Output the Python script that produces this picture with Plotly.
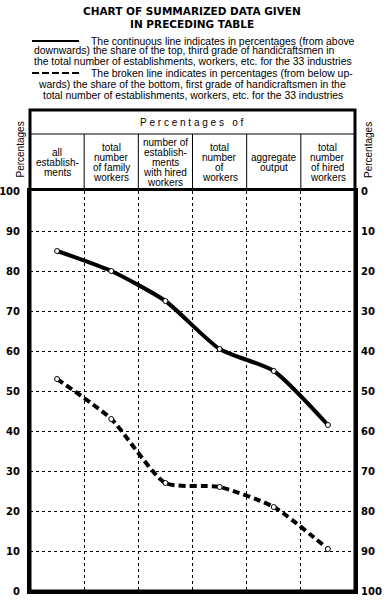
import plotly.graph_objects as go

# ---------------- data ----------------
categories = ["all establishments", "total number of family workers",
              "number of establishments with hired workers",
              "total number of workers", "aggregate output",
              "total number of hired workers"]
header_lines = [["all", "establish-", "ments"],
                ["total", "number", "of family", "workers"],
                ["number of", "establish-", "ments", "with hired", "workers"],
                ["total", "number", "of", "workers"],
                ["aggregate", "output"],
                ["total", "number", "of hired", "workers"]]
top_grade = [85, 80, 72.5, 60.5, 55, 41.5]      # continuous line
bottom_grade = [53, 43, 27, 26, 21, 10.5]       # broken line
left_ticks = list(range(0, 101, 10))
right_ticks = list(range(0, 101, 10))

FONT = "Liberation Sans"
BOLD = "DejaVu Sans"

W, H = 386, 600
# plot area in pixels
L, R, T, B = 30, 355, 191, 591
def px(x):
    return x / W
def py(y):
    return 1 - y / H

fig = go.Figure()
fig.add_trace(go.Scatter(
    x=categories, y=top_grade, mode="lines+markers",
    line=dict(color="black", width=4, shape="spline", smoothing=0.6),
    marker=dict(size=5, color="white", line=dict(color="black", width=1)),
    showlegend=False))
fig.add_trace(go.Scatter(
    x=categories, y=bottom_grade, mode="lines+markers",
    line=dict(color="black", width=4, dash="7px,4px", shape="spline", smoothing=0.6),
    marker=dict(size=5, color="white", line=dict(color="black", width=1)),
    showlegend=False))
# invisible trace for right axis
fig.add_trace(go.Scatter(x=categories, y=[None]*6, yaxis="y2", showlegend=False))

shapes = []
annotations = []

# title
for t, y in [("CHART OF SUMMARIZED DATA GIVEN", 11), ("IN PRECEDING TABLE", 24)]:
    annotations.append(dict(text=f"<b>{t}</b>", x=px(192), y=py(y),
                            xref="paper", yref="paper", showarrow=False,
                            xanchor="center", yanchor="middle",
                            font=dict(family=BOLD, size=10.5, color="black")))

# legend text
leg = [("The continuous line indicates in percentages (from above", 89, 41, "left"),
       ("downwards) the share of the top, third grade of handicraftsmen in", 32, 51, "left"),
       ("the total number of establishments, workers, etc. for the 33 industries", 32, 61, "left"),
       ("The broken line indicates in percentages (from below up-", 89, 73, "left"),
       ("wards) the share of the bottom, first grade of handicraftsmen in the", 192, 84, "center"),
       ("total number of establishments, workers, etc. for the 33 industries", 193, 95, "center")]
for t, x, y, a in leg:
    annotations.append(dict(text=t, x=px(x), y=py(y), xref="paper", yref="paper",
                            xanchor=a, yanchor="middle", showarrow=False,
                            font=dict(family=FONT, size=10.4, color="black")))
shapes.append(dict(type="line", xref="paper", yref="paper", x0=px(32), x1=px(79),
                   y0=py(41), y1=py(41), line=dict(color="black", width=2)))
shapes.append(dict(type="line", xref="paper", yref="paper", x0=px(32), x1=px(79),
                   y0=py(73), y1=py(73), line=dict(color="black", width=2, dash="7px,3px")))

# header box
shapes.append(dict(type="rect", xref="paper", yref="paper", x0=px(L), x1=px(R),
                   y0=py(B), y1=py(110), line=dict(color="black", width=3)))
shapes.append(dict(type="line", xref="paper", yref="paper", x0=px(L), x1=px(R),
                   y0=py(134), y1=py(134), line=dict(color="black", width=1)))
for i in range(1, 6):
    shapes.append(dict(type="line", xref="x", yref="paper", x0=i - 0.5, x1=i - 0.5,
                       y0=py(134), y1=py(191), line=dict(color="black", width=1)))
annotations.append(dict(text="\u00a0".join("Percentages") + "\u00a0\u00a0\u00a0o\u00a0f",
                        x=px(192), y=py(122), xref="paper", yref="paper", showarrow=False,
                        xanchor="center", yanchor="middle",
                        font=dict(family=FONT, size=10, color="black")))
for i, lines in enumerate(header_lines):
    n = len(lines)
    for k, ln in enumerate(lines):
        yy = 162.3 + (k - (n - 1) / 2) * 10
        annotations.append(dict(text=ln, x=i, y=py(yy), xref="x", yref="paper",
                                showarrow=False, xanchor="center", yanchor="middle",
                                font=dict(family=FONT, size=10, color="black")))

# axis titles
for x in (19.5, 368):
    annotations.append(dict(text="Percentages", x=px(x), y=py(150), xref="paper", yref="paper",
                            textangle=-90, showarrow=False,
                            xanchor="center", yanchor="middle",
                            font=dict(family=FONT, size=10, color="black")))

fig.update_layout(
    width=W, height=H,
    margin=dict(l=0, r=0, t=0, b=0, autoexpand=False),
    paper_bgcolor="white", plot_bgcolor="white",
    shapes=shapes, annotations=annotations,
    xaxis=dict(type="category", range=[-0.5, 5.5], showticklabels=False,
               domain=[px(L), px(R)], automargin=False,
               tickson="boundaries", ticks="", showgrid=True,
               gridcolor="black", gridwidth=1, griddash="dot",
               showline=True, linecolor="black", linewidth=3, mirror=True,
               zeroline=False),
    yaxis=dict(range=[0, 100], tickvals=left_ticks, ticktext=[f"<b>{v}</b>" for v in left_ticks],
               domain=[py(B), py(T)], automargin=False,
               showgrid=True, gridcolor="black", gridwidth=1, griddash="dot",
               showline=True, linecolor="black", linewidth=3, mirror=True,
               zeroline=False, ticks="", ticklabelstandoff=5,
               tickfont=dict(family=BOLD, size=10, color="black")),
    yaxis2=dict(range=[100, 0], overlaying="y", side="right", automargin=False,
                tickvals=right_ticks, ticktext=[f"<b>{v}</b>" for v in right_ticks],
                showgrid=False, zeroline=False, showline=False, ticks="",
                ticklabelstandoff=5,
                tickfont=dict(family=BOLD, size=10, color="black")),
)

fig.write_html("out.html", config={"displayModeBar": False},
               post_script="document.body.style.margin='0';document.body.style.overflow='hidden';")
